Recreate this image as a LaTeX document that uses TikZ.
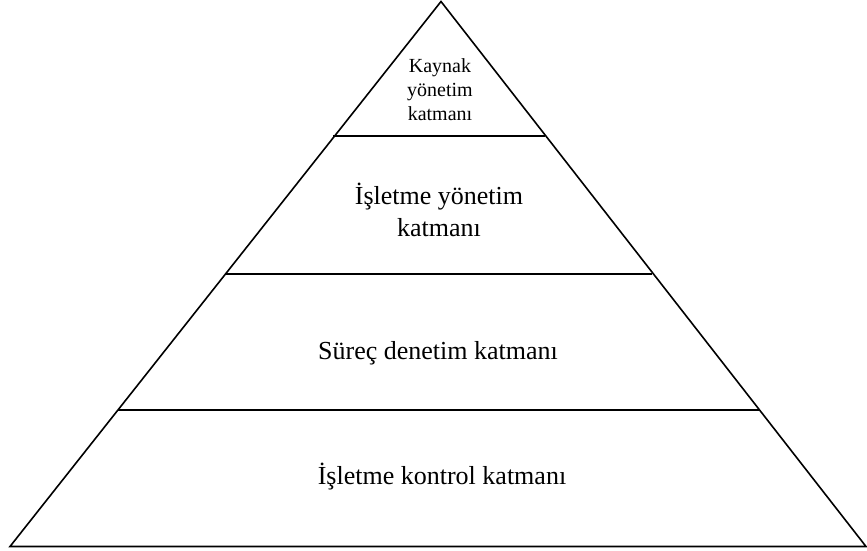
\documentclass[tikz,border=0pt]{standalone}
\usepackage{fontspec}
\setmainfont{Liberation Serif}
\begin{document}
\begin{tikzpicture}[x=1pt,y=-1pt,
  edge/.style={line width=1.6pt,line join=miter},
  layer/.style={line width=1.6pt},
  bigtext/.style={font=\fontsize{26}{32}\selectfont,align=center,anchor=base,inner sep=0pt},
  smalltext/.style={font=\fontsize{20}{24}\selectfont,align=center,anchor=base,inner sep=0pt}]
\useasboundingbox (0,0) rectangle (867,551);
% outline of the pyramid
\coordinate (apex) at (441,1.5);
\coordinate (bl) at (10,546.5);
\coordinate (br) at (866,546.5);
\draw[edge] (bl) -- (apex) -- (br) -- cycle;
% layer boundaries
\coordinate (l1a) at (333,136);
\coordinate (l1b) at (545,136);
\coordinate (l2a) at (226,274);
\coordinate (l2b) at (652,274);
\coordinate (l3a) at (118,410);
\coordinate (l3b) at (760,410);
\draw[layer] (l1a) -- (l1b);
\draw[layer] (l2a) -- (l2b);
\draw[layer] (l3a) -- (l3b);
% layer labels (anchored at the baseline of their last line)
\node[smalltext] (t1) at (440,120) {Kaynak\\yönetim\\katmanı};
\node[bigtext] (t2) at (439,236) {İşletme yönetim\\katmanı};
\node[bigtext] (t3) at (438,359) {Süreç denetim katmanı};
\node[bigtext] (t4) at (442,484) {İşletme kontrol katmanı};
\end{tikzpicture}
\end{document}
